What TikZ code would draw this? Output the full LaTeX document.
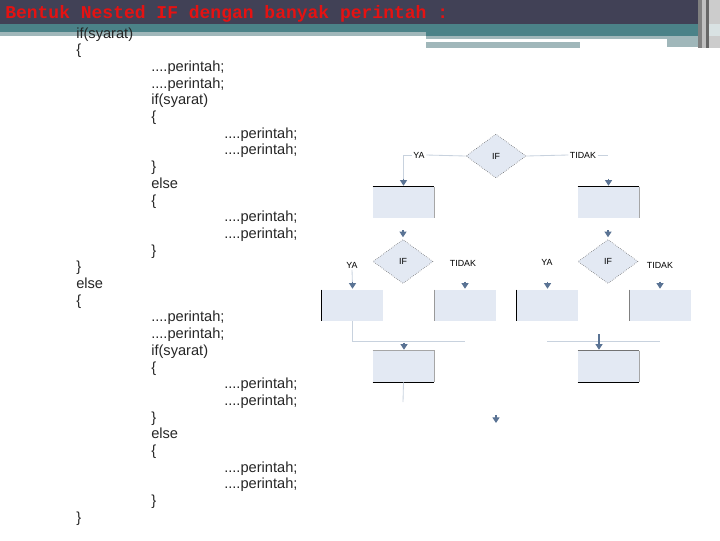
\documentclass[tikz,border=0pt]{standalone}
\usepackage{fontspec}
\setmainfont{Liberation Sans}
\newfontfamily\titlefont{Liberation Mono}
\usetikzlibrary{arrows.meta, shapes.geometric, calc}

\begin{document}
\begin{tikzpicture}[x=0.025cm, y=-0.025cm,
    code/.style={anchor=base west, inner sep=0pt, text=black!85, font=\fontsize{10.4}{12}\selectfont},
    lbl/.style={inner sep=1pt, font=\fontsize{6.3}{7}\selectfont},
    ifbox/.style={diamond, draw=black!65, densely dotted, fill=boxfill, inner sep=0pt,
        minimum width=1.5cm, minimum height=1.1cm, font=\fontsize{6.3}{7}\selectfont},
    stepbox/.style={rectangle, fill=boxfill, inner sep=0pt, minimum width=1.525cm, minimum height=0.775cm},
    flow/.style={draw=flowline, line width=0.6pt},
    tip/.style={draw=tipcolor, line width=0.8pt, -{Triangle[width=5pt,length=4pt]}}]

    % Define colors
    \definecolor{barcolor}{HTML}{414156}
    \definecolor{tealcolor}{HTML}{4B8288}
    \definecolor{palecolor}{HTML}{A0B7BA}
    \definecolor{boxfill}{HTML}{E3E9F3}
    \definecolor{flowline}{HTML}{C8D2DE}
    \definecolor{tipcolor}{HTML}{5A7394}
    \definecolor{titlered}{HTML}{E51212}

    \useasboundingbox (0,0) rectangle (720,540);

    % 1. Header band
    \fill[barcolor] (0,0) rectangle (700,24);
    \fill[tealcolor] (0,24) rectangle (700,32);
    \fill[tealcolor] (426,32) rectangle (700,36);
    \fill[palecolor] (0,32) rectangle (426,36);
    \fill[palecolor] (426,36) rectangle (707,39);
    \fill[palecolor] (426,42) rectangle (580,48);
    \fill[palecolor] (667,39) rectangle (707,47);
    \fill[black!50] (698,0) rectangle (702,48);
    \fill[black!25] (702,0) rectangle (706,48);
    \fill[black!60] (706,0) rectangle (709,48);
    \fill[black!20] (709,0) rectangle (720,48);
    \fill[palecolor!40] (709,24) rectangle (720,36);
    \node[anchor=base west, inner sep=0pt, text=titlered, font=\titlefont\bfseries\fontsize{12.8}{14}\selectfont] (title) at (5,18) {Bentuk Nested IF dengan banyak perintah :};

    % 2. Program text
    \node[code] (c0) at (76,38) {if(syarat)};
    \node[code] (c1) at (76,54.7) {\{};
    \node[code] (c2) at (151,71.4) {....perintah;};
    \node[code] (c3) at (151,88.1) {....perintah;};
    \node[code] (c4) at (151,104.8) {if(syarat)};
    \node[code] (c5) at (151,121.5) {\{};
    \node[code] (c6) at (224,138.2) {....perintah;};
    \node[code] (c7) at (224,154.9) {....perintah;};
    \node[code] (c8) at (151,171.6) {\}};
    \node[code] (c9) at (151,188.3) {else};
    \node[code] (c10) at (151,205) {\{};
    \node[code] (c11) at (224,221.7) {....perintah;};
    \node[code] (c12) at (224,238.4) {....perintah;};
    \node[code] (c13) at (151,255.1) {\}};
    \node[code] (c14) at (76,271.8) {\}};
    \node[code] (c15) at (76,288.5) {else};
    \node[code] (c16) at (76,305.2) {\{};
    \node[code] (c17) at (151,321.9) {....perintah;};
    \node[code] (c18) at (151,338.6) {....perintah;};
    \node[code] (c19) at (151,355.3) {if(syarat)};
    \node[code] (c20) at (151,372) {\{};
    \node[code] (c21) at (224,388.7) {....perintah;};
    \node[code] (c22) at (224,405.4) {....perintah;};
    \node[code] (c23) at (151,422.1) {\}};
    \node[code] (c24) at (151,438.8) {else};
    \node[code] (c25) at (151,455.5) {\{};
    \node[code] (c26) at (224,472.2) {....perintah;};
    \node[code] (c27) at (224,488.9) {....perintah;};
    \node[code] (c28) at (151,505.6) {\}};
    \node[code] (c29) at (76,522.3) {\}};

    % 3. Outer IF
    \node[ifbox] (if1) at (496,156) {IF};
    \node[lbl] (ya1) at (419,155) {YA};
    \node[lbl] (tidak1) at (583,155) {TIDAK};
    \coordinate (c1end) at (608,155);
    \node[stepbox] (b1) at (403.5,202.5) {};
    \node[stepbox] (b2) at (608.5,202.5) {};
    \draw[black] (b1.north west) -- (b1.north east);
    \draw[black!35] (b1.north east) -- (b1.south east);
    \draw[black] (b2.north west) -- (b2.north east);
    \draw[black!35] (b2.north east) -- (b2.south east);
    \draw[flow] (if1.west) -- (ya1.east);
    \draw[flow] (ya1.west) -| ($(b1.north)+(0,-4)$);
    \draw[flow] (if1.east) -- (tidak1.west);
    \draw[flow] (tidak1.east) -- (c1end);
    \draw[tip] ($(b1.north)+(0,-8)$) -- ($(b1.north)+(0,-1)$);
    \draw[tip] ($(b2.north)+(0,-8)$) -- ($(b2.north)+(0,-1)$);

    % 4. Inner IF blocks
    \node[ifbox] (if2) at (403,261.5) {IF};
    \node[ifbox] (if3) at (608,261.5) {IF};
    \draw[tip] ($(if2.north)+(0,-9)$) -- ($(if2.north)+(0,-2)$);
    \draw[tip] ($(if3.north)+(0,-9)$) -- ($(if3.north)+(0,-2)$);
    \node[lbl] (ya2) at (352,265) {YA};
    \node[lbl] (tidak2) at (463,263) {TIDAK};
    \node[lbl] (ya3) at (547,262) {YA};
    \node[lbl] (tidak3) at (660,265) {TIDAK};
    \node[stepbox] (b3) at (352.5,305.5) {};
    \node[stepbox] (b4) at (465,305.5) {};
    \node[stepbox] (b5) at (547.5,305.5) {};
    \node[stepbox] (b6) at (660,305.5) {};
    \draw[black] (b3.north west) -- (b3.south west);
    \draw[black!40] (b4.north west) -- (b4.south west);
    \draw[black] (b5.north west) -- (b5.south west);
    \draw[black!50] (b6.north west) -- (b6.south west);
    \draw[flow] (ya2.south) -- ($(b3.north)+(0,-4)$);
    \draw[tip] ($(b3.north)+(0,-8)$) -- ($(b3.north)+(0,-1)$);
    \draw[tip] ($(b4.north)+(0,-8)$) -- ($(b4.north)+(0,-1)$);
    \draw[tip] ($(b5.north)+(0,-8)$) -- ($(b5.north)+(0,-1)$);
    \draw[tip] ($(b6.north)+(0,-8)$) -- ($(b6.north)+(0,-1)$);

    % 5. Joining steps
    \coordinate (m1) at (465,341);
    \coordinate (m2) at (547,341);
    \coordinate (m3) at (660,341);
    \coordinate (m4) at (599,334);
    \node[stepbox] (b7) at (403.5,366.5) {};
    \node[stepbox] (b8) at (608.5,366.5) {};
    \draw[black!35] (b7.north west) -- (b7.north east) -- (b7.south east);
    \draw[black] (b7.south west) -- (b7.south east);
    \draw[black!55] (b8.north west) -- (b8.north east);
    \draw[black!35] (b8.north east) -- (b8.south east);
    \draw[black] (b8.south west) -- (b8.south east);
    \draw[flow] (b3.south) |- (m1);
    \draw[flow] (m2) -- (m3);
    \draw[tip] ($(b7.north)+(0.5,-8)$) -- ($(b7.north)+(0.5,-1)$);
    \draw[tip] (m4) -- ($(b8.north -| m4)+(0,-1)$);

    % loose ends
    \coordinate (e1) at (403,402);
    \coordinate (e2) at (496,415);
    \coordinate (e3) at (496,423);
    \draw[flow] (b7.south) -- (e1);
    \draw[tip] (e2) -- (e3);

\end{tikzpicture}
\end{document}
